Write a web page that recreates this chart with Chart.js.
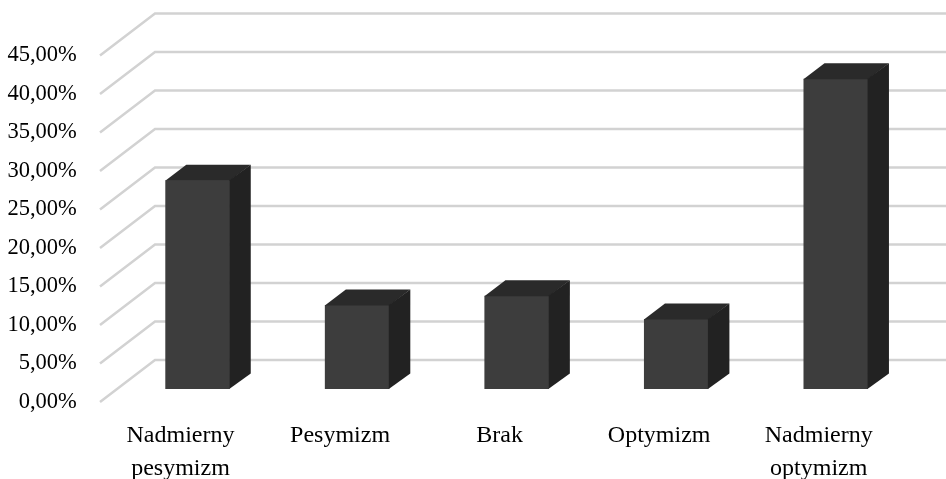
<!DOCTYPE html>
<html lang="pl">
<head>
<meta charset="utf-8">
<title>Wykres</title>
<style>
  html, body { margin: 0; padding: 0; background: #fff; }
  #wykres { display: block; }
</style>
<script src="https://cdn.jsdelivr.net/npm/chart.js@4"></script>
</head>
<body>
<canvas id="wykres" width="946" height="479"></canvas>
<script>
const kategorie = [
  ['Nadmierny', 'pesymizm'],
  'Pesymizm',
  'Brak',
  'Optymizm',
  ['Nadmierny', 'optymizm']
];
const wartosci = [27.1, 10.9, 12.1, 9.1, 40.3];
const maksOsi = 45;
const krokOsi = 5;

const rodzina = '"Liberation Serif", serif';

// Tylna sciana: linie siatki z ukosem od etykiety osi
const siatka3d = {
  id: 'siatka3d',
  beforeDatasetsDraw(chart) {
    const { ctx, scales: { y } } = chart;
    ctx.save();
    ctx.strokeStyle = '#d2d2d2';
    ctx.lineWidth = 2.5;
    for (let v = 0; v <= maksOsi; v += krokOsi) {
      const py = y.getPixelForValue(v);
      ctx.beginPath();
      ctx.moveTo(100, py + 13);
      ctx.lineTo(155, py - 29);
      ctx.lineTo(946, py - 29);
      ctx.stroke();
    }
    ctx.restore();
  }
};

// Boki i wierzch slupkow (zachodza 0.5px na przod, zeby nie bylo szczeliny)
const slupki3d = {
  id: 'slupki3d',
  afterDatasetsDraw(chart) {
    const { ctx } = chart;
    const dx = 21, dy = 15.5;
    chart.getDatasetMeta(0).data.forEach(b => {
      const lewa = b.x - b.width / 2, prawa = b.x + b.width / 2;
      ctx.fillStyle = '#2a2a2a';
      ctx.beginPath();
      ctx.moveTo(lewa, b.y + 0.5);
      ctx.lineTo(lewa + dx, b.y - dy);
      ctx.lineTo(prawa + dx, b.y - dy);
      ctx.lineTo(prawa, b.y + 0.5);
      ctx.closePath();
      ctx.fill();
      ctx.fillStyle = '#222222';
      ctx.beginPath();
      ctx.moveTo(prawa - 0.5, b.y);
      ctx.lineTo(prawa + dx, b.y - dy);
      ctx.lineTo(prawa + dx, b.base - dy);
      ctx.lineTo(prawa - 0.5, b.base);
      ctx.closePath();
      ctx.fill();
    });
  }
};

new Chart(document.getElementById('wykres').getContext('2d'), {
  type: 'bar',
  data: {
    labels: kategorie,
    datasets: [{
      data: wartosci,
      backgroundColor: '#3d3d3d',
      categoryPercentage: 1,
      barPercentage: 0.404
    }]
  },
  options: {
    responsive: false,
    animation: false,
    layout: { padding: { top: 42.5, right: 30.5 } },
    plugins: { legend: { display: false }, tooltip: { enabled: false } },
    scales: {
      x: {
        grid: { display: false },
        border: { display: false },
        afterFit(s) { s.height = 90; },
        ticks: {
          color: '#000',
          font: { family: rodzina, size: 24, lineHeight: 1.375 },
          padding: 22,
          labelOffset: -17,
          maxRotation: 0
        }
      },
      y: {
        min: 0,
        max: maksOsi,
        grid: { display: false },
        border: { display: false },
        // padding osi liczony z ticks.padding zawyzalby gorny margines
        afterFit(s) { s.width = 117.75; s.paddingTop = 0; s.paddingBottom = 0; },
        ticks: {
          stepSize: krokOsi,
          color: '#000',
          font: { family: rodzina, size: 22.5, lineHeight: 1.5 },
          padding: 33,
          labelOffset: 13,
          callback: v => v.toFixed(2).replace('.', ',') + '%'
        }
      }
    }
  },
  plugins: [siatka3d, slupki3d]
});
</script>
</body>
</html>
